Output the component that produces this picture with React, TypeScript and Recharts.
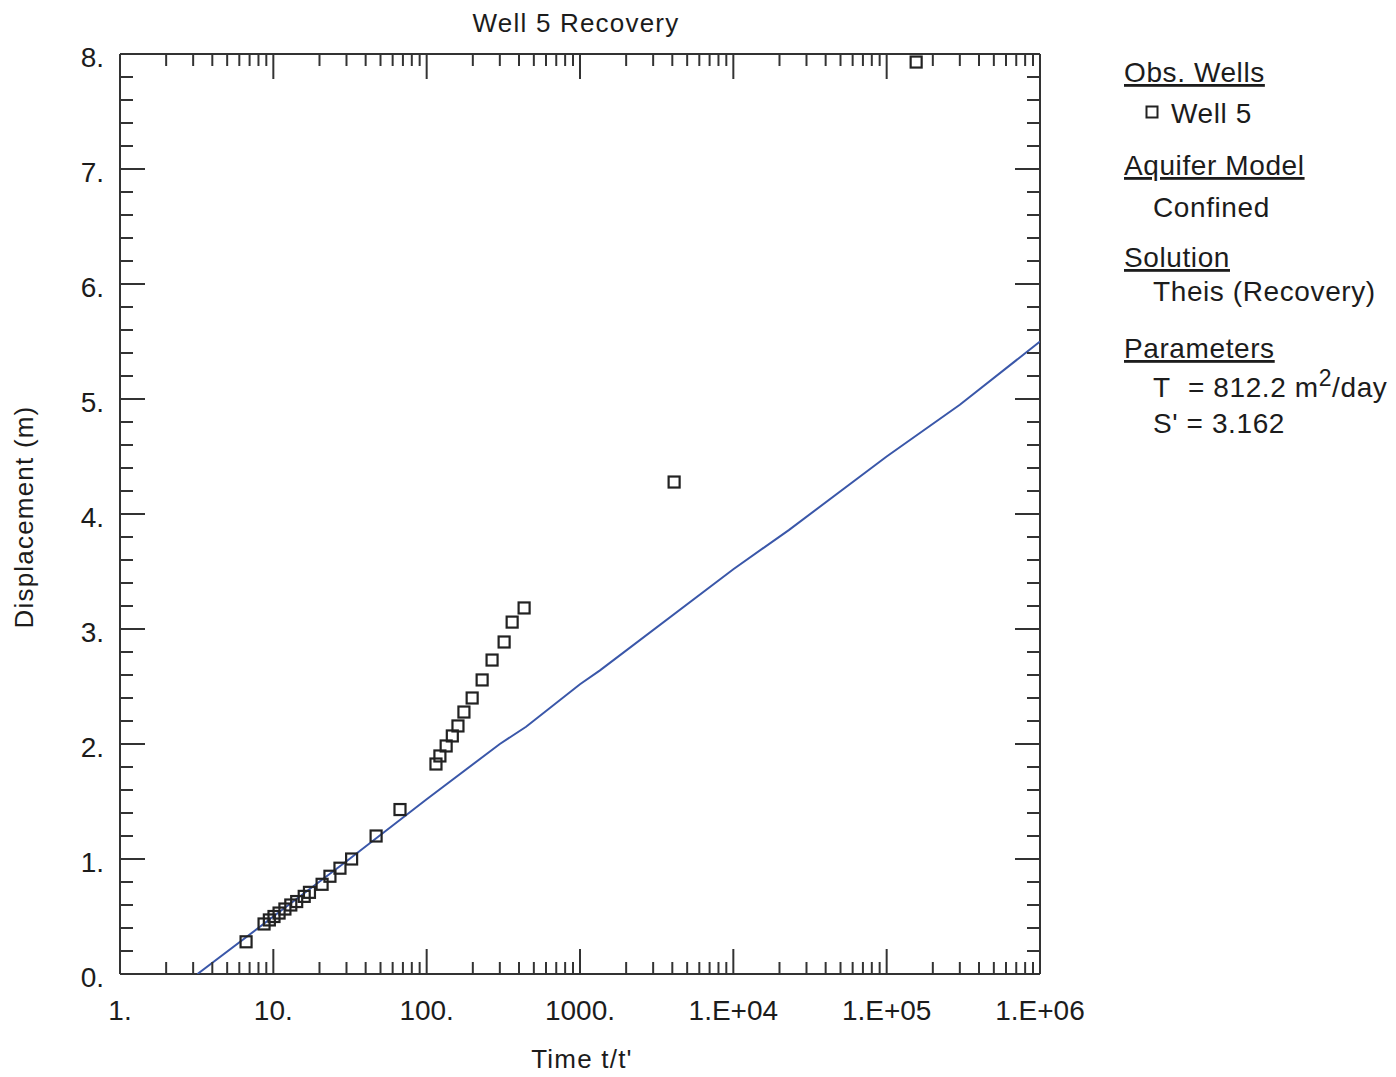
import React from "react";
import { ScatterChart, Scatter, XAxis, YAxis } from "recharts";

// observed recovery, Well 5
const wellTime = [6.64, 8.7, 9.42, 10.1, 10.9, 11.9, 13.0, 14.2, 15.9, 17.2, 20.8, 23.4, 27.2, 32.4, 46.8, 67, 115, 122, 134, 147, 160, 175, 198, 230, 267, 320, 361, 432, 4110, 155700];
const wellDisp = [0.28, 0.435, 0.47, 0.5, 0.53, 0.565, 0.6, 0.63, 0.675, 0.71, 0.78, 0.85, 0.92, 1.0, 1.2, 1.43, 1.826, 1.896, 1.983, 2.07, 2.157, 2.278, 2.4, 2.557, 2.73, 2.887, 3.06, 3.183, 4.278, 7.93];

// Theis (Recovery) fitted curve
const theisTime = [3.2, 10, 30, 100, 300, 445, 1000, 1350, 10000, 23000, 100000, 300000, 1000000];
const theisDisp = [0, 0.5, 0.98, 1.52, 2.0, 2.15, 2.52, 2.64, 3.52, 3.86, 4.5, 4.95, 5.5];

const xMajor = [1, 10, 100, 1000, 1e4, 1e5, 1e6];
const xLabels = ["1.", "10.", "100.", "1000.", "1.E+04", "1.E+05", "1.E+06"];
const xMinorSteps = [2, 3, 4, 5, 6, 7, 8, 9];
const yMax = 8;
const yLabels = ["0.", "1.", "2.", "3.", "4.", "5.", "6.", "7.", "8."];

const wellData = wellTime.map((t, i) => ({ x: t, y: wellDisp[i] }));
const theisData = theisTime.map((t, i) => ({ x: t, y: theisDisp[i] }));

const xTicks: number[] = [];
xMajor.forEach((m, i) => {
  xTicks.push(m);
  if (i < xMajor.length - 1) xMinorSteps.forEach((s) => xTicks.push(m * s));
});
const yTicks: number[] = [];
for (let i = 0; i <= yMax * 5; i++) yTicks.push(Math.round(i * 2) / 10);

const FONT = "'Liberation Sans', Arial, Helvetica, sans-serif";
const INK = "#1c1c1c";
const FRAME = "#333";
const BLUE = "#3a57a9";

const W = 1388;
const H = 1062;

const BottomTick = (p: any) => {
  const i = xMajor.indexOf(p.payload.value);
  const len = i >= 0 ? 25 : 12;
  return (
    <g>
      <line x1={p.x} x2={p.x} y1={p.y} y2={p.y - len} stroke={FRAME} strokeWidth={2} />
      {i >= 0 && (
        <text x={p.x} y={p.y + 46} textAnchor="middle" fontSize={28} fill={INK} fontFamily={FONT}>
          {xLabels[i]}
        </text>
      )}
    </g>
  );
};

const TopTick = (p: any) => {
  const len = xMajor.includes(p.payload.value) ? 25 : 12;
  return <line x1={p.x} x2={p.x} y1={p.y} y2={p.y + len} stroke={FRAME} strokeWidth={2} />;
};

const LeftTick = (p: any) => {
  const v = p.payload.value;
  const major = Number.isInteger(v);
  const len = major ? 25 : 13;
  return (
    <g>
      <line x1={p.x} x2={p.x + len} y1={p.y} y2={p.y} stroke={FRAME} strokeWidth={2} />
      {major && (
        <text x={p.x - 16} y={p.y + 13} textAnchor="end" fontSize={28} fill={INK} fontFamily={FONT}>
          {yLabels[v]}
        </text>
      )}
    </g>
  );
};

const RightTick = (p: any) => {
  const len = Number.isInteger(p.payload.value) ? 25 : 13;
  return <line x1={p.x} x2={p.x - len} y1={p.y} y2={p.y} stroke={FRAME} strokeWidth={2} />;
};

const SquareMark = (p: any) => (
  <rect x={p.cx - 5.5} y={p.cy - 5.5} width={11} height={11} fill="none" stroke="#222" strokeWidth={2.2} />
);

const NoMark = () => <g />;

const head = { fontSize: 28, fill: INK, fontFamily: FONT, letterSpacing: 0.6, textDecoration: "underline" };
const item = { fontSize: 28, fill: INK, fontFamily: FONT, letterSpacing: 0.6 };
const axisText = { fontSize: 26, fill: INK, fontFamily: FONT, letterSpacing: 1.2 };

export default function App() {
  return (
    <div style={{ position: "relative", width: W, height: H, fontFamily: FONT }}>
      <ScatterChart width={W} height={H} margin={{ top: 26, right: 316, bottom: 36, left: 52 }}>
        <XAxis
          dataKey="x"
          type="number"
          scale="log"
          domain={[1, 1e6]}
          allowDataOverflow
          ticks={xTicks}
          interval={0}
          height={60}
          tickSize={0}
          tickMargin={0}
          tick={BottomTick}
          axisLine={{ stroke: FRAME, strokeWidth: 2 }}
          tickLine={false}
        />
        <XAxis
          xAxisId="top"
          orientation="top"
          dataKey="x"
          type="number"
          scale="log"
          domain={[1, 1e6]}
          allowDataOverflow
          ticks={xTicks}
          interval={0}
          height={20}
          tickSize={0}
          tickMargin={0}
          tick={TopTick}
          axisLine={{ stroke: FRAME, strokeWidth: 2 }}
          tickLine={false}
        />
        <YAxis
          dataKey="y"
          type="number"
          domain={[0, yMax]}
          allowDataOverflow
          ticks={yTicks}
          interval={0}
          width={60}
          tickSize={0}
          tickMargin={0}
          tick={LeftTick}
          axisLine={{ stroke: FRAME, strokeWidth: 2 }}
          tickLine={false}
        />
        <YAxis
          yAxisId="right"
          orientation="right"
          dataKey="y"
          type="number"
          domain={[0, yMax]}
          allowDataOverflow
          ticks={yTicks}
          interval={0}
          width={40}
          tickSize={0}
          tickMargin={0}
          tick={RightTick}
          axisLine={{ stroke: FRAME, strokeWidth: 2 }}
          tickLine={false}
        />
        <Scatter
          data={theisData}
          line={{ stroke: BLUE, strokeWidth: 2 }}
          lineType="joint"
          shape={NoMark}
          isAnimationActive={false}
        />
        <Scatter data={wellData} shape={SquareMark} isAnimationActive={false} />
      </ScatterChart>

      <svg
        width={W}
        height={H}
        style={{ position: "absolute", left: 0, top: 0, pointerEvents: "none", overflow: "visible" }}
      >
        <text x={568} y={24} textAnchor="middle" style={axisText}>
          Well 5 Recovery
        </text>
        <text x={574} y={1060} textAnchor="middle" style={axisText}>
          Time t/t'
        </text>
        <text
          x={0}
          y={0}
          textAnchor="middle"
          transform="translate(25 509) rotate(-90)"
          style={axisText}
        >
          Displacement (m)
        </text>

        <text x={1116} y={74} style={head}>Obs. Wells</text>
        <rect x={1138.5} y={98.5} width={11} height={11} fill="none" stroke="#222" strokeWidth={2} />
        <text x={1163} y={115} style={item}>Well 5</text>

        <text x={1116} y={167} style={head}>Aquifer Model</text>
        <text x={1145} y={209} style={item}>Confined</text>

        <text x={1116} y={259} style={head}>Solution</text>
        <text x={1145} y={293} style={item}>Theis (Recovery)</text>

        <text x={1116} y={350} style={head}>Parameters</text>
        <text x={1145} y={389} style={item}>
          T
          <tspan x={1180}>= 812.2 m</tspan>
          <tspan dy={-11} fontSize={23}>2</tspan>
          <tspan dy={11}>/day</tspan>
        </text>
        <text x={1145} y={425} style={item}>S' = 3.162</text>
      </svg>
    </div>
  );
}
